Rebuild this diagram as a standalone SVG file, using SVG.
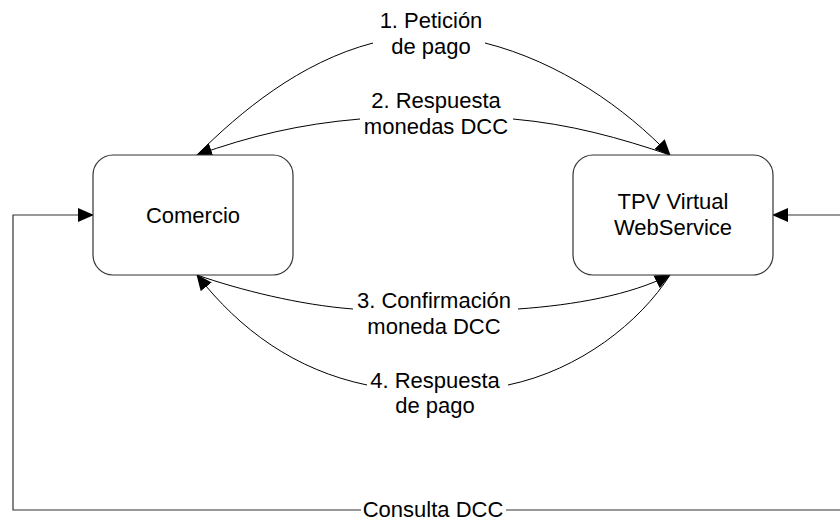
<svg xmlns="http://www.w3.org/2000/svg" width="840" height="522" viewBox="0 0 840 522">
<defs>
<style>
.box{fill:#fff;stroke:#333;stroke-width:1.2}
.t{font-family:"Liberation Sans",Arial,sans-serif;font-size:22px;fill:#000;text-anchor:middle}
.c{fill:none;stroke:#000;stroke-width:1}
.g{fill:none;stroke:#333;stroke-width:1.2}
</style>
<marker id="ah" markerWidth="16" markerHeight="14" refX="15" refY="7" orient="auto" markerUnits="userSpaceOnUse">
<path d="M0,0 L16,7 L0,14 Z" fill="#000"/>
</marker>
</defs>
<rect width="840" height="522" fill="#fff"/>
<g id="connectors">
<path class="c" d="M197,155 C240,112 300,62 373,43"/>
<path class="c" d="M485,43 C560,62 625,108 670,155" marker-end="url(#ah)"/>
<path class="c" d="M670,155 C620,138 570,124 513,119"/>
<path class="c" d="M360,119 C300,124 250,136 197,155" marker-end="url(#ah)"/>
<path class="c" d="M197,275 C240,290 300,305 353,309"/>
<path class="c" d="M518,309 C575,305 630,295 670,275" marker-end="url(#ah)"/>
<path class="c" d="M670,275 C640,322 580,370 508,385"/>
<path class="c" d="M367,385 C295,370 240,330 197,275" marker-end="url(#ah)"/>
<path class="g" d="M361,510 L13,510 L13,215 L93,215" marker-end="url(#ah)"/>
<path class="g" d="M506,510 L848,510 L848,215 L773,215" marker-end="url(#ah)"/>
</g>
<g id="labels">
<text class="t" x="431" y="28">1. Petición</text>
<text class="t" x="431" y="54">de pago</text>
<text class="t" x="436" y="108">2. Respuesta</text>
<text class="t" x="436" y="134">monedas DCC</text>
<text class="t" x="434" y="308">3. Confirmación</text>
<text class="t" x="434" y="334">moneda DCC</text>
<text class="t" x="435" y="388">4. Respuesta</text>
<text class="t" x="435" y="413">de pago</text>
<text class="t" x="433" y="517">Consulta DCC</text>
</g>
<g id="comercio">
<rect class="box" x="93" y="155" width="200" height="120" rx="20" ry="20"/>
<text class="t" x="193" y="223">Comercio</text>
</g>
<g id="tpv">
<rect class="box" x="573" y="155" width="200" height="120" rx="20" ry="20"/>
<text class="t" x="673" y="209">TPV Virtual</text>
<text class="t" x="673" y="235">WebService</text>
</g>
</svg>
